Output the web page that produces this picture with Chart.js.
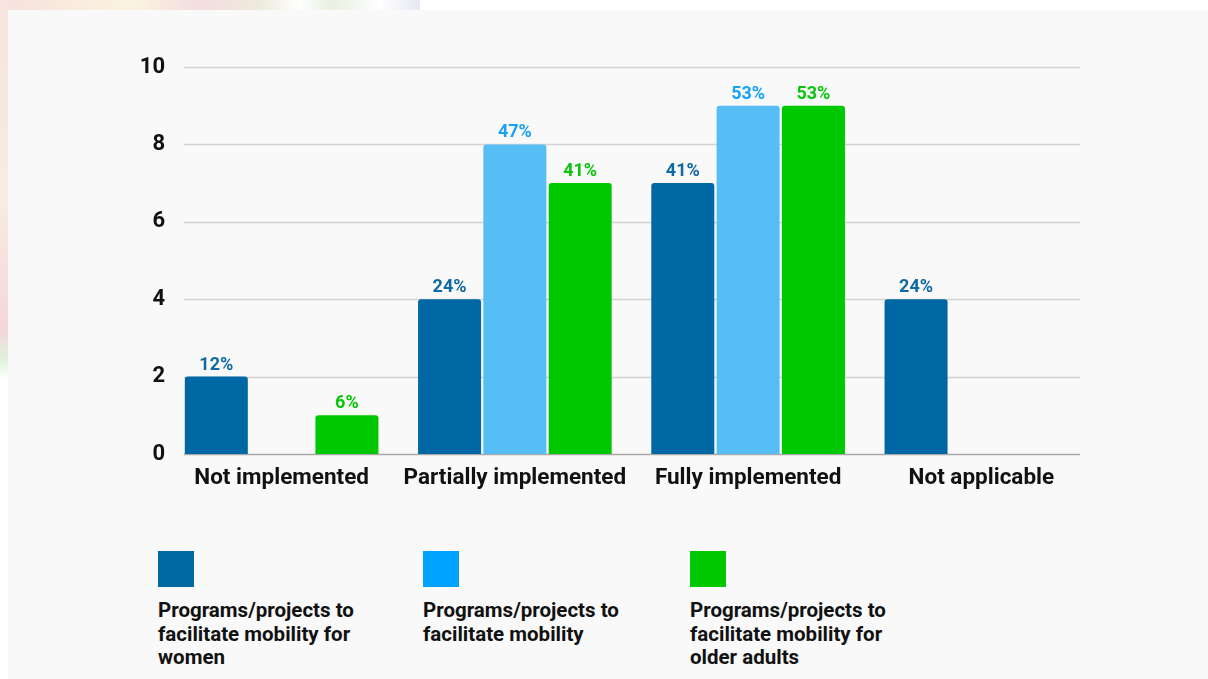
<!DOCTYPE html>
<html>
<head>
<meta charset="utf-8">
<script src="https://cdn.jsdelivr.net/npm/chart.js@4"></script>
<style>
  html, body { margin: 0; padding: 0; width: 1208px; height: 679px; overflow: hidden; background: #fff; font-family: Roboto, sans-serif; }
  #deco { position: absolute; left: 0; top: 0; width: 420px; height: 10px;
    background: linear-gradient(to right, #f6e0dc 0px, #fbf3e0 130px, #f3dde0 200px, #eeeadd 260px, #ffffff 300px, #e8f0e0 330px, #ffffff 380px, #e6e8f2 420px); }
  #deco2 { position: absolute; left: 0; top: 0; width: 8px; height: 380px;
    background: linear-gradient(to bottom, #f6e4de 0px, #f8ece0 200px, #f4d6dc 330px, #dff2dc 360px, #ffffff 380px); }
  #panel { position: absolute; left: 8px; top: 10px; right: 0; bottom: 0; background: #f9f9f9; }
  #wrap { position: absolute; left: 0; top: 0; width: 1208px; height: 500px; }
  #legend { position: absolute; left: 0; top: 551px; width: 1208px; height: 128px; }
  .item { position: absolute; top: 0; width: 215px; }
  .box { width: 36px; height: 36px; }
  .txt { margin-top: 12px; font-weight: 700; font-size: 20.5px; line-height: 23.5px; color: #111; }
</style>
</head>
<body>
<div id="deco"></div>
<div id="deco2"></div>
<div id="panel"></div>
<div id="wrap"><canvas id="chart"></canvas></div>
<div id="legend"></div>
<script>
// Data
const categories = ['Not implemented', 'Partially implemented', 'Fully implemented', 'Not applicable'];
const seriesNames = [
    'Programs/projects to facilitate mobility for women',
    'Programs/projects to facilitate mobility',
    'Programs/projects to facilitate mobility for older adults'
];
const womenValues = [2, 4, 7, 4];
const mobilityValues = [0, 8, 9, 0];
const olderValues = [1, 7, 9, 0];
const womenPct = ['12%', '24%', '41%', '24%'];
const mobilityPct = ['', '47%', '53%', ''];
const olderPct = ['6%', '41%', '53%', ''];
const yTicks = [0, 2, 4, 6, 8, 10];

const barColors = ['#0067a5', '#56bef5', '#00c800'];
const labelColors = ['#0f6aa3', '#17a2f5', '#0cc40c'];
const legendColors = ['#0067a5', '#00a2ff', '#00c800'];
const pctLabels = [womenPct, mobilityPct, olderPct];

// Grid lines that stop short of the plot edges
const gridPlugin = {
    id: 'shortGrid',
    beforeDatasetsDraw(chart) {
        const { ctx, chartArea, scales } = chart;
        const x0 = chartArea.left + 19;
        const x1 = chartArea.right - 18;
        ctx.save();
        yTicks.forEach(v => {
            const y = Math.round(scales.y.getPixelForValue(v)) + 0.5;
            ctx.beginPath();
            ctx.strokeStyle = v === 0 ? '#a8a8a8' : '#d2d2d2';
            ctx.lineWidth = 1.5;
            ctx.moveTo(x0, y);
            ctx.lineTo(x1, y);
            ctx.stroke();
        });
        ctx.restore();
    }
};

// Percent labels above bars
const pctPlugin = {
    id: 'pctLabels',
    afterDatasetsDraw(chart) {
        const { ctx } = chart;
        ctx.save();
        ctx.font = 'bold 18px Roboto';
        ctx.textAlign = 'center';
        ctx.textBaseline = 'alphabetic';
        chart.data.datasets.forEach((ds, i) => {
            const meta = chart.getDatasetMeta(i);
            meta.data.forEach((bar, j) => {
                const txt = pctLabels[i][j];
                if (!txt) return;
                ctx.fillStyle = labelColors[i];
                ctx.fillText(txt, bar.x, bar.y - 7);
            });
        });
        ctx.restore();
    }
};

const datasets = [womenValues, mobilityValues, olderValues].map((vals, i) => ({
    label: seriesNames[i],
    data: vals,
    backgroundColor: barColors[i],
    borderRadius: 3,
    borderSkipped: 'bottom',
    categoryPercentage: 0.84,
    barPercentage: 0.965
}));

new Chart(document.getElementById('chart').getContext('2d'), {
    type: 'bar',
    data: { labels: categories, datasets: datasets },
    plugins: [gridPlugin, pctPlugin],
    options: {
        responsive: true,
        maintainAspectRatio: false,
        animation: false,
        layout: { padding: { top: 67, right: 110, bottom: 0, left: 0 } },
        plugins: { legend: { display: false }, tooltip: { enabled: false } },
        scales: {
            x: {
                grid: { display: false, drawTicks: false },
                border: { display: false },
                ticks: { color: '#111', font: { family: 'Roboto', weight: 'bold', size: 22.5 }, padding: 11 },
                afterFit(scale) { scale.height = 46; }
            },
            y: {
                min: 0,
                max: 10,
                grid: { display: false, drawTicks: false },
                border: { display: false },
                ticks: {
                    stepSize: 2,
                    color: '#111',
                    padding: 0,
                    font: { family: 'Roboto', weight: 'bold', size: 22 }
                },
                afterFit(scale) { scale.width = 165; }
            }
        }
    }
});

// Legend with text under each box
const legend = document.getElementById('legend');
const legendX = [158, 423, 690];
seriesNames.forEach((name, i) => {
    const item = document.createElement('div');
    item.className = 'item';
    item.style.left = legendX[i] + 'px';
    item.innerHTML = '<div class="box" style="background:' + legendColors[i] + '"></div><div class="txt"></div>';
    item.querySelector('.txt').textContent = name;
    legend.appendChild(item);
});
</script>
</body>
</html>
